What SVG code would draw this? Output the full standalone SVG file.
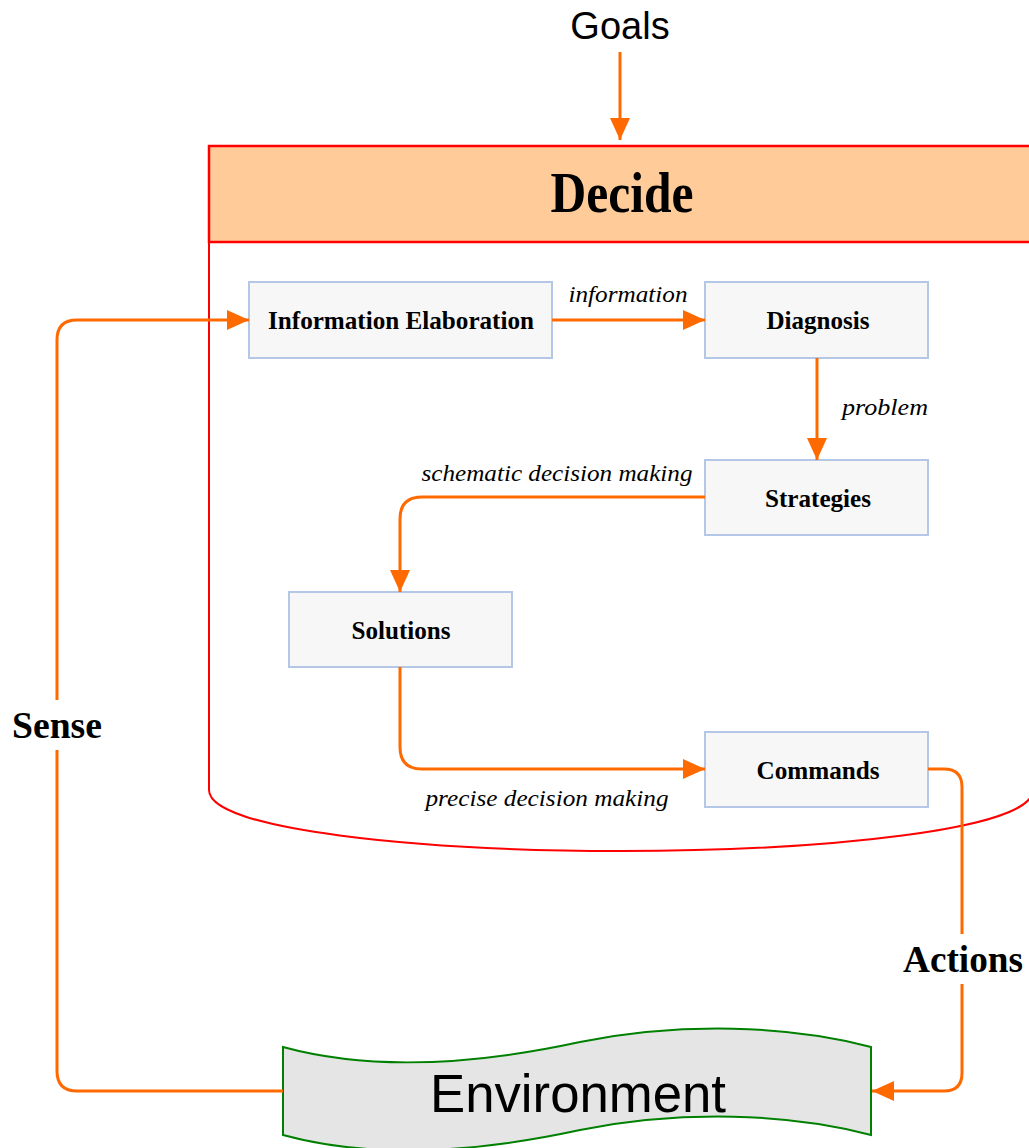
<svg xmlns="http://www.w3.org/2000/svg" width="1029" height="1148" viewBox="0 0 1029 1148">
<style>
.box{fill:#F7F7F7;stroke:#B4C7E7;stroke-width:2}
.lbl{font-family:"Liberation Serif",serif;font-weight:bold;font-size:26px;text-anchor:middle;fill:#000}
.it{font-family:"Liberation Serif",serif;font-style:italic;font-size:24px;text-anchor:middle;fill:#000}
.big{font-family:"Liberation Serif",serif;font-weight:bold;font-size:38px;text-anchor:middle;fill:#000}
.sans{font-family:"Liberation Sans",Arial,sans-serif;text-anchor:middle;fill:#000}
.con{fill:none;stroke:#FF6A00;stroke-width:3}
</style>
<defs>
<marker id="ah" markerUnits="userSpaceOnUse" markerWidth="22" markerHeight="20" refX="22" refY="10" orient="auto">
<path d="M0,0 L22,10 L0,20 z" fill="#FF6A00"/>
</marker>
</defs>
<rect width="1029" height="1148" fill="#fff"/>
<g id="goals">
<text class="sans" x="620" y="39" font-size="38">Goals</text>
</g>
<g id="decide">
<path d="M209,242 V790 C209,830 420,851 621,851 C822,851 1033,830 1033,790 V242" fill="#fff" stroke="#FF0000" stroke-width="2"/>
<rect x="209" y="146" width="824" height="96" fill="#FFCC99" stroke="#FF0000" stroke-width="2.5"/>
<text x="622" y="212" font-family="'Liberation Serif',serif" font-weight="bold" font-size="56" text-anchor="middle" textLength="143" lengthAdjust="spacingAndGlyphs">Decide</text>
</g>
<g id="info">
<rect class="box" x="249" y="282" width="303" height="76"/>
<text class="lbl" x="401" y="329" textLength="266" lengthAdjust="spacingAndGlyphs">Information Elaboration</text>
</g>
<g id="diagnosis">
<rect class="box" x="705" y="282" width="223" height="76"/>
<text class="lbl" x="818" y="329" textLength="103" lengthAdjust="spacingAndGlyphs">Diagnosis</text>
</g>
<g id="strategies">
<rect class="box" x="705" y="460" width="223" height="75"/>
<text class="lbl" x="818" y="507" textLength="106" lengthAdjust="spacingAndGlyphs">Strategies</text>
</g>
<g id="solutions">
<rect class="box" x="289" y="592" width="223" height="75"/>
<text class="lbl" x="401" y="639" textLength="99" lengthAdjust="spacingAndGlyphs">Solutions</text>
</g>
<g id="commands">
<rect class="box" x="705" y="732" width="223" height="75"/>
<text class="lbl" x="818" y="779" textLength="123" lengthAdjust="spacingAndGlyphs">Commands</text>
</g>
<g id="environment">
<path d="M283,1047 C360,1068 460,1068 580,1042 C680,1022 790,1025 871,1047 V1135 C790,1113 680,1110 580,1130 C460,1156 360,1156 283,1135 Z" fill="#E5E5E5" stroke="#008000" stroke-width="2"/>
<text class="sans" x="578" y="1112" font-size="53" textLength="296" lengthAdjust="spacingAndGlyphs">Environment</text>
</g>
<g id="connectors">
<path class="con" d="M620,52 V140" marker-end="url(#ah)"/>
<path class="con" d="M552,320 H705" marker-end="url(#ah)"/>
<path class="con" d="M817,358 V460" marker-end="url(#ah)"/>
<path class="con" d="M705,497 H422 Q400,497 400,519 V592" marker-end="url(#ah)"/>
<path class="con" d="M400,667 V747 Q400,769 422,769 H705" marker-end="url(#ah)"/>
<path class="con" d="M928,769 H944 Q962,769 962,787 V1073 Q962,1091 944,1091 H872" marker-end="url(#ah)"/>
<path class="con" d="M283,1091 H77 Q57,1091 57,1071 V340 Q57,320 77,320 H249" marker-end="url(#ah)"/>
<text class="it" x="628" y="302" textLength="119" lengthAdjust="spacingAndGlyphs">information</text>
<text class="it" x="885" y="415" textLength="86" lengthAdjust="spacingAndGlyphs">problem</text>
<text class="it" x="557" y="481" textLength="271" lengthAdjust="spacingAndGlyphs">schematic decision making</text>
<text class="it" x="547" y="806" textLength="243" lengthAdjust="spacingAndGlyphs">precise decision making</text>
<rect x="8" y="700" width="98" height="50" fill="#fff"/>
<text class="big" x="57" y="738" textLength="90" lengthAdjust="spacingAndGlyphs">Sense</text>
<rect x="900" y="934" width="126" height="50" fill="#fff"/>
<text class="big" x="963" y="972" textLength="120" lengthAdjust="spacingAndGlyphs">Actions</text>
</g>
</svg>
